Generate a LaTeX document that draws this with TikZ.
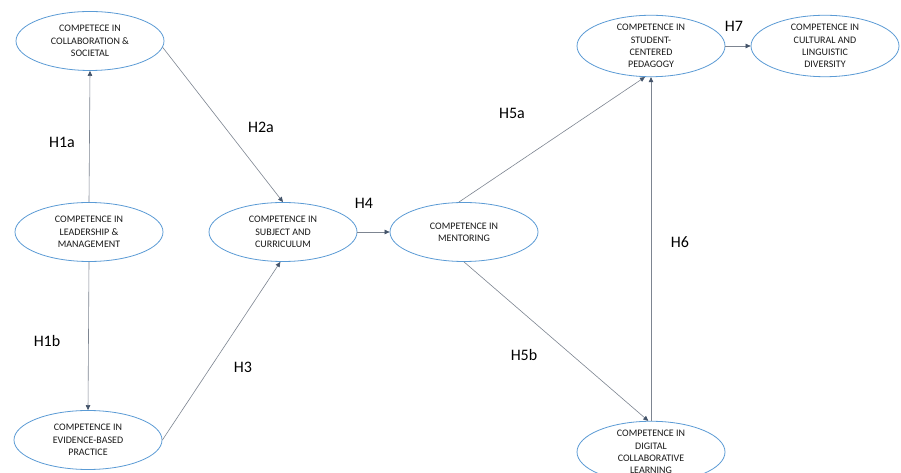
\documentclass[tikz,border=0pt]{standalone}
\usepackage{fontspec}
\setmainfont{Carlito}
\usetikzlibrary{arrows.meta,shapes.geometric}
\definecolor{ellblue}{RGB}{91,155,213}
\definecolor{linegray}{RGB}{125,133,145}
\definecolor{tipgray}{RGB}{68,84,106}
\definecolor{txt}{RGB}{25,25,25}
\tikzset{
  comp/.style={ellipse, draw=ellblue, line width=0.8pt, minimum width=148pt, minimum height=59pt,
    inner sep=0pt, align=center, text=txt, font=\fontsize{10}{12.3}\selectfont},
  conn/.style={draw=linegray, line width=0.6pt, -{Triangle[length=5pt,width=4.5pt,color=tipgray,fill=tipgray]}},
  hlabel/.style={font=\fontsize{16}{18}\selectfont, text=black}
}
\begin{document}
\begin{tikzpicture}[x=1pt,y=1pt]
\useasboundingbox (0,0) rectangle (901,473);
\fill[white] (0,0) rectangle (901,473);
\node[comp] (e1) at (90,432) {COMPETECE IN\\COLLABORATION \&\\SOCIETAL};
\node[comp] (e2) at (89,241) {COMPETENCE IN\\LEADERSHIP \&\\MANAGEMENT};
\node[comp] (e3) at (88,33) {COMPETENCE IN\\EVIDENCE-BASED\\PRACTICE};
\node[comp] (e4) at (283,241) {COMPETENCE IN\\SUBJECT AND\\CURRICULUM};
\node[comp] (e5) at (464,241) {COMPETENCE IN\\MENTORING};
\node[comp] (e6) at (651,427) {COMPETENCE IN\\STUDENT-\\CENTERED\\PEDAGOGY};
\node[comp] (e7) at (825,427) {COMPETENCE IN\\CULTURAL AND\\LINGUISTIC\\DIVERSITY};
\node[comp] (e8) at (651,21) {COMPETENCE IN\\DIGITAL\\COLLABORATIVE\\LEARNING};

\draw[conn] (e2.north) -- (e1.south);
\draw[conn] (e1.-5) -- (e4.north);
\draw[conn] (e2.south) -- (e3.north);
\draw[conn] (e3.east) -- (e4.265);
\draw[conn] (e4.east) -- (e5.west);
\draw[conn] (e5.100) -- (e6.259);
\draw[conn] (e5.south) -- (e8.95);
\draw[conn] (e8.north) -- (e6.south);
\draw[conn] (e6.east) -- (e7.west);

\node[hlabel] (h1a) at (62,331) {H1a};
\node[hlabel] (h2a) at (261,346) {H2a};
\node[hlabel] (h4) at (364,270) {H4};
\node[hlabel] (h5a) at (512,360) {H5a};
\node[hlabel] (h7) at (734,447) {H7};
\node[hlabel] (h6) at (680,231) {H6};
\node[hlabel] (h1b) at (47,132) {H1b};
\node[hlabel] (h3) at (243,106) {H3};
\node[hlabel] (h5b) at (524,118) {H5b};
\end{tikzpicture}
\end{document}
